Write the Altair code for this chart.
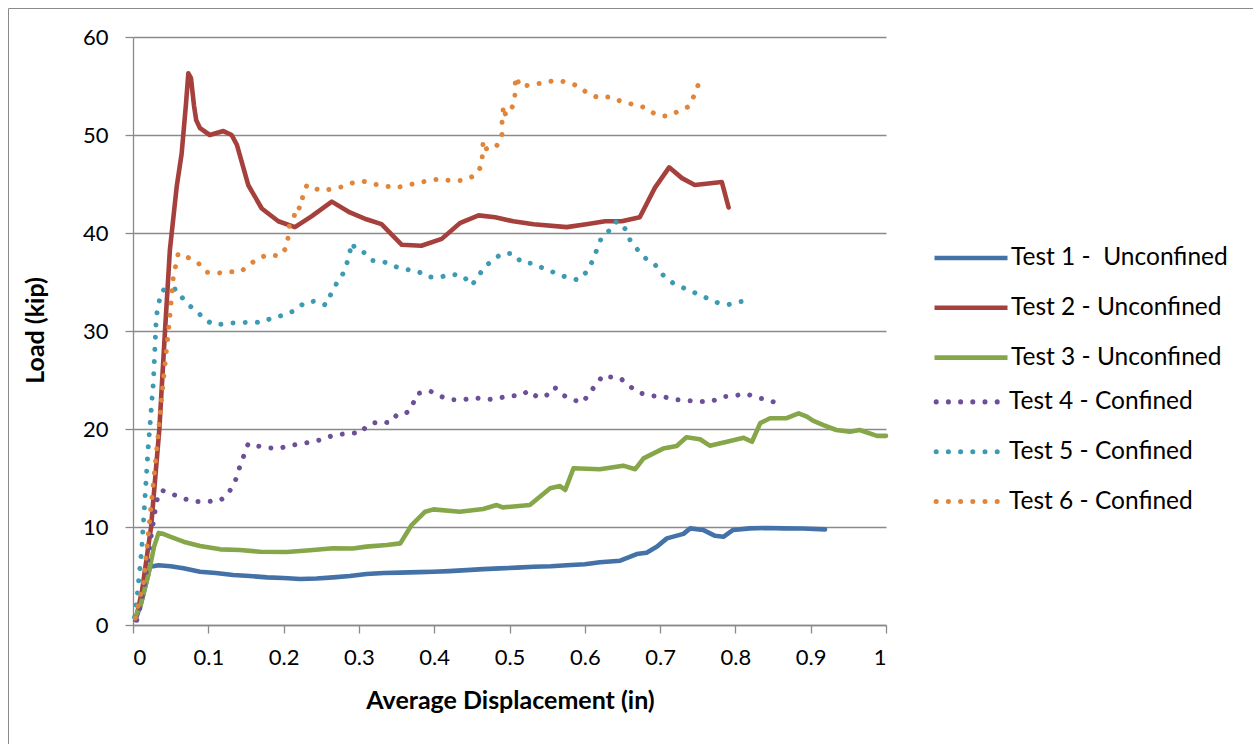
import altair as alt
import pandas as pd

# Load vs. average displacement for six column tests
unconfined_names = ["Test 1 -\u00a0 Unconfined", "Test 2 - Unconfined", "Test 3 - Unconfined"]
confined_names = ["Test 4 - Confined", "Test 5 - Confined", "Test 6 - Confined"]
unconfined_colors = ["#4472a8", "#a5403c", "#86a64a"]
confined_colors = ["#6c4f96", "#3c9ab3", "#e0853a"]

disp_1 = [0.003, 0.01, 0.018, 0.0226, 0.034, 0.05, 0.067, 0.089, 0.11, 0.133, 0.155, 0.178, 0.2, 0.222, 0.244,
          0.266, 0.288, 0.31, 0.333, 0.355, 0.38, 0.399, 0.42, 0.443, 0.465, 0.487, 0.51, 0.532, 0.555, 0.576,
          0.6, 0.62, 0.647, 0.669, 0.682, 0.696, 0.709, 0.731, 0.74, 0.757, 0.773, 0.784, 0.797, 0.819, 0.842,
          0.864, 0.89, 0.919]
load_1 = [0.5, 2.0, 4.5, 5.95, 6.1, 6.0, 5.8, 5.44, 5.3, 5.1, 5.0, 4.86, 4.8, 4.7, 4.75,
          4.86, 5.0, 5.2, 5.3, 5.34, 5.4, 5.44, 5.5, 5.6, 5.7, 5.78, 5.85, 5.95, 6.0, 6.1,
          6.2, 6.4, 6.56, 7.24, 7.38, 8.0, 8.84, 9.3, 9.86, 9.7, 9.1, 9.0, 9.7, 9.86, 9.9,
          9.86, 9.85, 9.76]

disp_2 = [0.005, 0.012, 0.024, 0.035, 0.0425, 0.049, 0.058, 0.0646, 0.0704, 0.0735, 0.077, 0.081, 0.084, 0.089,
          0.102, 0.12, 0.131, 0.138, 0.153, 0.171, 0.193, 0.215, 0.237, 0.264, 0.288, 0.31, 0.33, 0.357, 0.383,
          0.41, 0.434, 0.459, 0.481, 0.505, 0.532, 0.576, 0.602, 0.627, 0.649, 0.673, 0.693, 0.712, 0.729, 0.746,
          0.782, 0.791]
load_2 = [1.0, 3.5, 10.0, 20.0, 30.0, 38.3, 44.7, 48.1, 53.2, 56.3, 55.8, 53.0, 51.5, 50.7,
          50.0, 50.4, 50.0, 49.0, 44.9, 42.5, 41.2, 40.6, 41.7, 43.2, 42.1, 41.4, 40.9, 38.8, 38.7,
          39.4, 41.0, 41.8, 41.6, 41.2, 40.9, 40.6, 40.9, 41.2, 41.2, 41.6, 44.6, 46.7, 45.6, 44.9,
          45.2, 42.6]

disp_3 = [0.003, 0.01, 0.02, 0.028, 0.034, 0.04, 0.05, 0.067, 0.089, 0.116, 0.142, 0.169, 0.204, 0.231, 0.266,
          0.292, 0.31, 0.337, 0.355, 0.37, 0.388, 0.399, 0.434, 0.465, 0.483, 0.491, 0.527, 0.554, 0.567, 0.574,
          0.585, 0.62, 0.651, 0.667, 0.678, 0.704, 0.722, 0.735, 0.753, 0.766, 0.793, 0.811, 0.822, 0.833, 0.846,
          0.868, 0.884, 0.895, 0.903, 0.917, 0.934, 0.952, 0.965, 0.988, 1.0]
load_3 = [0.8, 2.0, 5.0, 8.0, 9.4, 9.3, 9.0, 8.5, 8.06, 7.72, 7.65, 7.48, 7.45, 7.6, 7.83,
          7.8, 8.0, 8.16, 8.33, 10.2, 11.56, 11.8, 11.56, 11.84, 12.24, 12.0, 12.24, 13.95, 14.18, 13.78,
          16.0, 15.9, 16.26, 15.9, 17.0, 18.0, 18.27, 19.15, 18.95, 18.3, 18.77, 19.1, 18.7, 20.6, 21.1,
          21.1, 21.6, 21.26, 20.85, 20.4, 19.9, 19.73, 19.9, 19.3, 19.3]

disp_4 = [0.005, 0.01, 0.015, 0.022, 0.03, 0.034, 0.04, 0.054, 0.069, 0.084, 0.099, 0.116, 0.127, 0.135, 0.142,
          0.153, 0.163, 0.178, 0.193, 0.208, 0.224, 0.239, 0.254, 0.267, 0.281, 0.293, 0.303, 0.309, 0.319, 0.331,
          0.340, 0.350, 0.358, 0.368, 0.372, 0.377, 0.383, 0.394, 0.406, 0.421, 0.437, 0.453, 0.469, 0.484, 0.499,
          0.514, 0.526, 0.538, 0.551, 0.560, 0.570, 0.583, 0.597, 0.607, 0.616, 0.625, 0.634, 0.647, 0.659, 0.672,
          0.688, 0.704, 0.72, 0.736, 0.752, 0.768, 0.783, 0.799, 0.814, 0.829, 0.845, 0.858]
load_4 = [0.5, 2.0, 4.0, 8.0, 12.0, 13.5, 13.7, 13.3, 12.86, 12.6, 12.6, 12.7, 13.5, 14.5, 16.2,
          18.5, 18.3, 18.1, 18.0, 18.3, 18.5, 18.7, 19.0, 19.4, 19.5, 19.6, 19.6, 20.2, 20.6, 20.8,
          20.6, 21.4, 21.4, 21.9, 22.6, 23.6, 23.7, 23.9, 23.4, 23.0, 22.96, 23.2, 23.0, 23.1, 23.4,
          23.4, 23.9, 23.2, 23.5, 24.25, 23.5, 23.0, 22.7, 23.7, 24.7, 25.5, 25.3, 25.2, 24.4, 23.7,
          23.4, 23.3, 23.0, 22.9, 22.8, 22.8, 23.3, 23.4, 23.6, 23.2, 22.96, 22.5]

disp_5 = [0.002, 0.005, 0.0115, 0.02, 0.027, 0.031, 0.036, 0.040, 0.045, 0.057, 0.062, 0.073, 0.085, 0.096, 0.110,
          0.126, 0.142, 0.158, 0.173, 0.186, 0.2, 0.215, 0.228, 0.243, 0.256, 0.263, 0.27, 0.277, 0.284, 0.287,
          0.291, 0.295, 0.307, 0.318, 0.332, 0.347, 0.362, 0.378, 0.392, 0.408, 0.423, 0.439, 0.449, 0.457, 0.465,
          0.477, 0.490, 0.505, 0.516, 0.531, 0.545, 0.560, 0.575, 0.591, 0.602, 0.610, 0.616, 0.622, 0.630, 0.638,
          0.642, 0.654, 0.660, 0.670, 0.681, 0.694, 0.704, 0.717, 0.731, 0.746, 0.761, 0.776, 0.791, 0.806, 0.822]
load_5 = [0.8, 2.55, 7.65, 17.9, 24.7, 31.5, 33.5, 34.2, 34.0, 34.3, 33.7, 32.7, 32.0, 31.1, 30.6,
          30.8, 30.85, 30.9, 30.9, 31.4, 31.6, 32.1, 32.9, 33.06, 32.65, 33.8, 34.8, 35.5, 36.9, 37.8,
          39.0, 38.4, 38.0, 37.2, 37.1, 36.6, 36.3, 36.1, 35.5, 35.5, 35.8, 35.6, 34.66, 35.3, 36.4,
          37.2, 37.9, 37.9, 37.0, 36.9, 36.4, 35.95, 35.5, 35.2, 36.0, 37.1, 38.3, 39.5, 40.1, 40.5,
          41.2, 40.4, 39.3, 38.3, 37.4, 36.7, 35.7, 34.9, 34.4, 33.9, 33.4, 32.9, 32.7, 33.0, 33.06]

disp_6 = [0.003, 0.014, 0.0226, 0.0315, 0.040, 0.049, 0.0535, 0.060, 0.073, 0.087, 0.098, 0.112, 0.127, 0.143,
          0.155, 0.166, 0.180, 0.194, 0.204, 0.206, 0.208, 0.214, 0.217, 0.222, 0.226, 0.231, 0.239, 0.251, 0.264,
          0.277, 0.291, 0.305, 0.319, 0.335, 0.349, 0.364, 0.379, 0.394, 0.409, 0.425, 0.440, 0.455, 0.463, 0.464,
          0.465, 0.47, 0.483, 0.490, 0.490, 0.492, 0.495, 0.505, 0.507, 0.508, 0.515, 0.531, 0.546, 0.561, 0.576,
          0.591, 0.603, 0.618, 0.634, 0.649, 0.665, 0.680, 0.694, 0.709, 0.724, 0.738, 0.745, 0.751]
load_6 = [0.7, 4.3, 11.05, 17.9, 24.7, 31.5, 35.5, 37.9, 37.5, 36.9, 36.0, 35.9, 36.05, 36.05,
          36.8, 37.4, 37.8, 37.65, 38.5, 39.6, 41.0, 41.7, 42.7, 42.5, 43.9, 44.9, 44.6, 44.3, 44.5,
          44.7, 45.1, 45.3, 45.0, 44.8, 44.6, 44.9, 45.1, 45.4, 45.5, 45.3, 45.4, 45.9, 46.9, 47.96,
          49.4, 48.5, 48.9, 49.8, 51.2, 52.96, 52.0, 53.0, 53.7, 55.95, 54.9, 55.2, 55.3, 55.6, 55.4,
          55.0, 54.3, 53.8, 53.9, 53.4, 53.1, 52.8, 52.1, 51.9, 52.4, 52.9, 54.0, 55.2]

x_ticks = [0, 0.1, 0.2, 0.3, 0.4, 0.5, 0.6, 0.7, 0.8, 0.9, 1]
y_ticks = [0, 10, 20, 30, 40, 50, 60]

FONT = "Lato"
GRAY = "#8a8a8a"
LINE_W = 4.6
DOT_W = 5.0
DOT_GAP = 12.2
SYMBOL_LEN = 73
ROW_STEP = 48.3


def long_table(names, xs_list, ys_list, style):
    rows = []
    for name, xs, ys in zip(names, xs_list, ys_list):
        assert len(xs) == len(ys), name
        for i, (xv, yv) in enumerate(zip(xs, ys)):
            rows.append({"series": name, "disp": xv, "load": yv, "step": i, "style": style})
    return pd.DataFrame(rows)


solid_df = long_table(unconfined_names, [disp_1, disp_2, disp_3], [load_1, load_2, load_3], "solid")
dotted_df = long_table(confined_names, [disp_4, disp_5, disp_6], [load_4, load_5, load_6], "dotted")

# legend glyph for the dotted series: six small circles whose stroke closes them into solid dots
half = SYMBOL_LEN / 2
ring_r_px = 1.28
ring_w = 2.5
dot_centers = [(-33.8 + DOT_GAP * k) / half for k in range(6)]
r = ring_r_px / half
dots_path = "".join(
    f"M{c - r:.5f},0a{r:.5f},{r:.5f} 0 1,0 {2 * r:.5f},0a{r:.5f},{r:.5f} 0 1,0 {-2 * r:.5f},0Z"
    for c in dot_centers
)

legend_common = dict(
    title=None, orient="none", legendX=799, padding=0,
    symbolSize=SYMBOL_LEN * SYMBOL_LEN,
    clipHeight=20, rowPadding=24.8, labelFont=FONT, labelFontSize=24.5,
    labelColor="#000000", labelOffset=1, labelLimit=400,
)
solid_legend = alt.Legend(legendY=211, symbolType="stroke", symbolStrokeWidth=LINE_W, **legend_common)
dotted_legend = alt.Legend(legendY=210 + 3 * ROW_STEP, symbolType=dots_path,
                           symbolStrokeWidth=ring_w, **legend_common)

x_enc = alt.X("disp:Q", scale=alt.Scale(domain=[0, 1], nice=False),
              axis=alt.Axis(values=x_ticks, format=".1~f", grid=False,
                            title="Average Displacement (in)",
                            titleX=377, titleY=75, titleAlign="center", titleBaseline="middle"))
y_enc = alt.Y("load:Q", scale=alt.Scale(domain=[0, 60], nice=False),
              axis=alt.Axis(values=y_ticks, grid=True, title="Load (kip)",
                            titleX=-98, titleY=293, titleAngle=270,
                            titleAlign="center", titleBaseline="middle"))

solid = alt.Chart(solid_df).mark_line(
    strokeWidth=LINE_W, strokeCap="round", strokeJoin="round"
).encode(
    x=x_enc, y=y_enc, order=alt.Order("step:Q"),
    color=alt.Color("series:N", scale=alt.Scale(domain=unconfined_names, range=unconfined_colors),
                    legend=solid_legend),
)

dotted = alt.Chart(dotted_df).mark_line(
    strokeWidth=DOT_W, strokeCap="round", strokeJoin="round"
).encode(
    x=x_enc, y=y_enc, order=alt.Order("step:Q"),
    color=alt.Color("series:N", scale=alt.Scale(domain=confined_names, range=confined_colors),
                    legend=dotted_legend),
    strokeDash=alt.StrokeDash("style:N",
                              scale=alt.Scale(domain=["dotted"], range=[[0.01, DOT_GAP]]),
                              legend=None),
)

frame = alt.Chart(alt.Data(values=[{}])).mark_rect(
    fill="transparent", stroke=GRAY, strokeWidth=1
).encode(x=alt.value(-124.5), x2=alt.value(1140), y=alt.value(-28.5), y2=alt.value(730))

chart = alt.layer(frame, solid, dotted).resolve_scale(
    color="independent"
).properties(
    width=753, height=588, autosize="none",
    padding={"left": 133, "top": 37, "right": 367, "bottom": 119},
    background="#ffffff",
).configure_view(stroke=None).configure_axis(
    domainColor=GRAY, domainWidth=1.3, tickColor=GRAY, tickWidth=1.3, tickSize=8,
    gridColor=GRAY, gridWidth=1.3, labelFont=FONT, labelFontSize=22, labelColor="#000000",
    titleFont=FONT, titleFontSize=25, titleFontWeight="bold", titleColor="#000000",
).configure_axisX(labelPadding=14).configure_axisY(labelPadding=17)

chart.save("out.html", embed_options={"renderer": "svg", "actions": False})
